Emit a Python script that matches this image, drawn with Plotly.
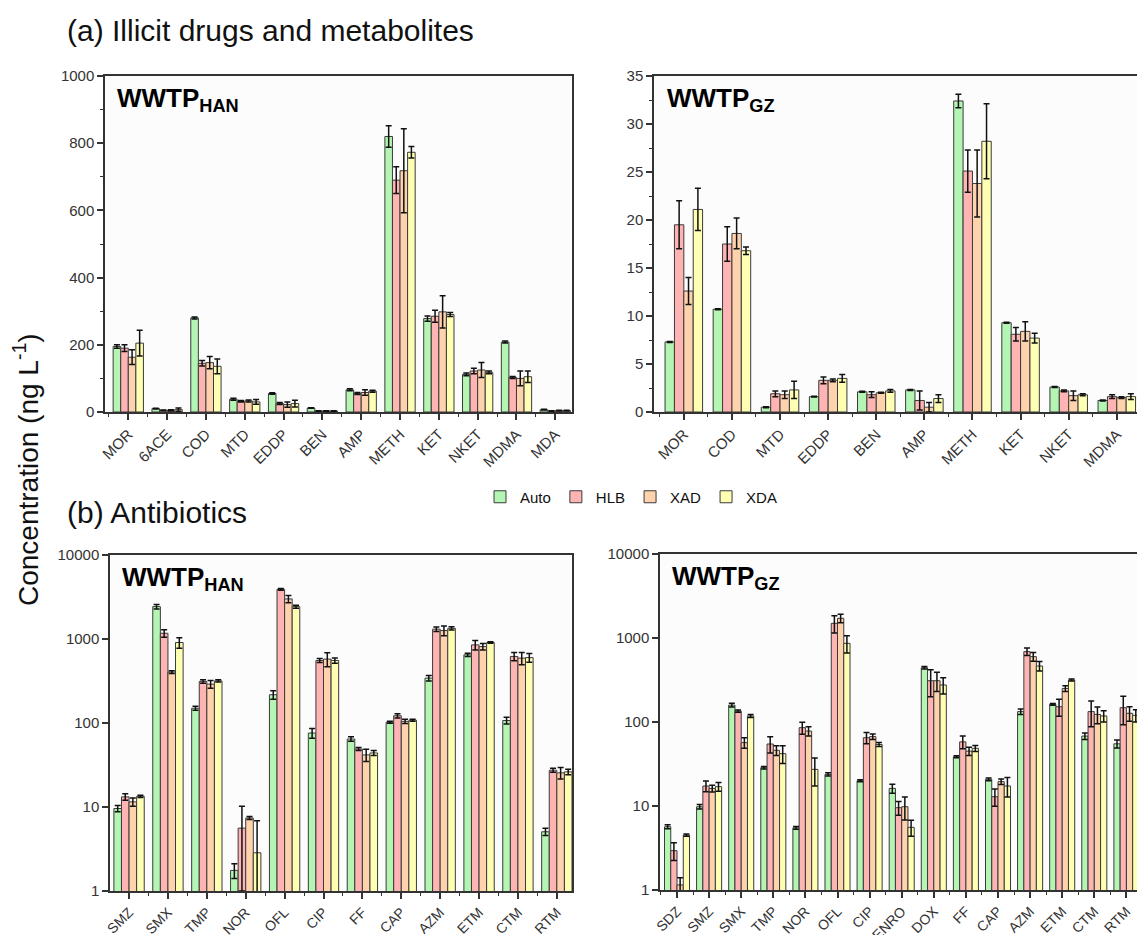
import plotly.graph_objects as go

# ---------------- data ----------------
series = ["Auto", "HLB", "XAD", "XDA"]
colors = ["#b4f5b4", "#ffb4b4", "#ffd2ae", "#ffffb4"]

# (a) Illicit drugs, WWTP_HAN
han_drug_cats = ["MOR", "6ACE", "COD", "MTD", "EDDP", "BEN", "AMP", "METH", "KET", "NKET", "MDMA", "MDA"]
han_drug_auto = [195, 10, 280, 38, 55, 12, 66, 820, 278, 112, 208, 7]
han_drug_hlb = [190, 5, 145, 32, 25, 3, 55, 690, 285, 122, 103, 3]
han_drug_xad = [163, 5, 147, 33, 22, 3, 58, 718, 298, 125, 100, 4]
han_drug_xda = [205, 7, 136, 30, 25, 3, 62, 773, 290, 118, 105, 4]
han_drug_auto_err = [5, 1, 3, 3, 2, 1, 3, 32, 8, 4, 3, 1]
han_drug_hlb_err = [10, 1, 8, 2, 3, 1, 3, 40, 18, 8, 3, 1]
han_drug_xad_err = [22, 2, 18, 3, 8, 1, 8, 125, 48, 22, 22, 1]
han_drug_xda_err = [38, 5, 22, 7, 10, 1, 3, 17, 6, 4, 17, 1]

# (a) Illicit drugs, WWTP_GZ
gz_drug_cats = ["MOR", "COD", "MTD", "EDDP", "BEN", "AMP", "METH", "KET", "NKET", "MDMA"]
gz_drug_auto = [7.3, 10.7, 0.5, 1.6, 2.1, 2.3, 32.4, 9.3, 2.6, 1.2]
gz_drug_hlb = [19.5, 17.5, 1.9, 3.3, 1.8, 1.2, 25.1, 8.1, 2.2, 1.6]
gz_drug_xad = [12.6, 18.6, 1.8, 3.3, 2.0, 0.5, 23.8, 8.4, 1.7, 1.5]
gz_drug_xda = [21.1, 16.8, 2.3, 3.5, 2.2, 1.4, 28.2, 7.7, 1.8, 1.6]
gz_drug_auto_err = [0.05, 0.05, 0.05, 0.05, 0.05, 0.05, 0.7, 0.05, 0.05, 0.05]
gz_drug_hlb_err = [2.5, 1.8, 0.3, 0.35, 0.3, 1.0, 2.2, 0.7, 0.1, 0.2]
gz_drug_xad_err = [1.4, 1.6, 0.4, 0.15, 0.05, 0.5, 3.5, 1.0, 0.5, 0.1]
gz_drug_xda_err = [2.2, 0.4, 0.9, 0.4, 0.15, 0.4, 3.9, 0.5, 0.1, 0.3]

# (b) Antibiotics, WWTP_HAN
han_ab_cats = ["SMZ", "SMX", "TMP", "NOR", "OFL", "CIP", "FF", "CAP", "AZM", "ETM", "CTM", "RTM"]
han_ab_auto = [9.6, 2430, 150, 1.76, 217, 76, 64.5, 102, 342, 648, 107, 5.07]
han_ab_hlb = [13.2, 1170, 313, 5.6, 3900, 555, 49, 122, 1310, 851, 620, 27.4]
han_ab_xad = [11.5, 404, 290, 7.4, 3000, 576, 41.7, 104.7, 1260, 812, 592, 25.5]
han_ab_xda = [13.4, 908, 317, 2.85, 2430, 555, 44, 108, 1340, 908, 600, 26.2]
han_ab_auto_err = [0.8, 150, 8, 0.35, 25, 10, 4, 3, 25, 30, 10, 0.5]
han_ab_hlb_err = [1.2, 120, 15, 4.6, 100, 30, 2, 7, 80, 110, 70, 1.5]
han_ab_xad_err = [1.3, 15, 30, 0.3, 300, 110, 7, 6, 170, 70, 100, 4]
han_ab_xda_err = [0.4, 130, 10, 4.0, 100, 40, 3, 3, 60, 20, 70, 2]

# (b) Antibiotics, WWTP_GZ
gz_ab_cats = ["SDZ", "SMZ", "SMX", "TMP", "NOR", "OFL", "CIP", "ENRO", "DOX", "FF", "CAP", "AZM", "ETM", "CTM", "RTM"]
gz_ab_auto = [5.67, 9.8, 159, 28.6, 5.5, 23.8, 20, 16.2, 443, 38.6, 20.8, 133, 162, 68, 55]
gz_ab_hlb = [2.94, 17.3, 135, 54.7, 85.6, 1496, 65, 9.55, 310, 58, 12.9, 688, 152, 133, 148]
gz_ab_xad = [1.15, 16.2, 56.8, 46, 78, 1714, 67, 9.8, 310, 45, 19.5, 600, 251, 123, 127]
gz_ab_xda = [4.5, 17, 118, 42, 27.3, 864, 54, 5.57, 276, 48.6, 17.3, 464, 316, 118, 120]
gz_ab_auto_err = [0.3, 0.6, 8, 1, 0.2, 1, 0.5, 2, 15, 1, 0.8, 10, 4, 6, 6]
gz_ab_hlb_err = [0.7, 2.5, 4, 12, 14, 350, 10, 1.8, 110, 10, 3, 70, 35, 45, 55]
gz_ab_xad_err = [0.25, 1.5, 8, 6, 10, 200, 5, 3, 80, 5, 1.5, 70, 20, 28, 25]
gz_ab_xda_err = [0.15, 2, 5, 10, 10, 200, 3, 1.2, 60, 4, 4.5, 60, 8, 18, 20]

panels = [
    dict(cats=han_drug_cats,
         vals=[han_drug_auto, han_drug_hlb, han_drug_xad, han_drug_xda],
         errs=[han_drug_auto_err, han_drug_hlb_err, han_drug_xad_err, han_drug_xda_err],
         label="WWTP<sub>HAN</sub>"),
    dict(cats=gz_drug_cats,
         vals=[gz_drug_auto, gz_drug_hlb, gz_drug_xad, gz_drug_xda],
         errs=[gz_drug_auto_err, gz_drug_hlb_err, gz_drug_xad_err, gz_drug_xda_err],
         label="WWTP<sub>GZ</sub>"),
    dict(cats=han_ab_cats,
         vals=[han_ab_auto, han_ab_hlb, han_ab_xad, han_ab_xda],
         errs=[han_ab_auto_err, han_ab_hlb_err, han_ab_xad_err, han_ab_xda_err],
         label="WWTP<sub>HAN</sub>"),
    dict(cats=gz_ab_cats,
         vals=[gz_ab_auto, gz_ab_hlb, gz_ab_xad, gz_ab_xda],
         errs=[gz_ab_auto_err, gz_ab_hlb_err, gz_ab_xad_err, gz_ab_xda_err],
         label="WWTP<sub>GZ</sub>"),
]

W, H = 1137, 935
FONT = "Liberation Sans, Arial, sans-serif"
AX = "#333333"

def px_x(p):
    return p / W

def px_y(p):
    return 1 - p / H

geo = [
    dict(xd=[px_x(105), px_x(572)], yd=[px_y(412), px_y(76)], xr=[-0.6, 11.43], right=True),
    dict(xd=[px_x(654), 1.0], yd=[px_y(412), px_y(76)], xr=[-0.62, 9.42], right=False),
    dict(xd=[px_x(110), px_x(572)], yd=[px_y(891), px_y(555)], xr=[-0.49, 11.39], right=True),
    dict(xd=[px_x(660), 1.0], yd=[px_y(890), px_y(554)], xr=[-0.53, 14.33], right=False),
]

fig = go.Figure()
layout = {}
for i, (p, g) in enumerate(zip(panels, geo)):
    n = i + 1
    xa = "x" if n == 1 else f"x{n}"
    ya = "y" if n == 1 else f"y{n}"
    xpos = list(range(len(p["cats"])))
    for s, (name, col) in enumerate(zip(series, colors)):
        fig.add_trace(go.Bar(
            x=xpos, y=p["vals"][s], name=name,
            marker=dict(color=col, line=dict(color="#3a3a3a", width=1)),
            error_y=dict(type="data", array=p["errs"][s], color="#111111", thickness=1.5, width=3),
            xaxis=xa, yaxis=ya, offsetgroup=str(s), legendgroup=name,
            showlegend=(i == 0),
        ))
    xkey = "xaxis" if n == 1 else f"xaxis{n}"
    ykey = "yaxis" if n == 1 else f"yaxis{n}"
    layout[xkey] = dict(
        domain=g["xd"], range=g["xr"], anchor=ya,
        tickmode="array", tickvals=xpos, ticktext=p["cats"], tickangle=-45,
        ticks="outside", ticklen=6, tickwidth=1.5, tickcolor=AX,
        minor=dict(tickmode="linear", tick0=0.5, dtick=1, ticks="outside", ticklen=3,
                   tickwidth=1.2, tickcolor=AX),
        showline=True, linecolor=AX, linewidth=1.5, mirror=True,
        showgrid=False, zeroline=False, automargin=False,
        tickfont=dict(family=FONT, size=15 if n <= 2 else 14, color="#333333"),
    )
    ydict = dict(
        domain=g["yd"], anchor=xa,
        ticks="outside", ticklen=6, tickwidth=1.5, tickcolor=AX,
        showline=True, linecolor=AX, linewidth=1.5, mirror=g["right"],
        showgrid=False, zeroline=False, automargin=False,
        tickfont=dict(family=FONT, size=15, color="#333333"),
    )
    if n == 1:
        ydict.update(range=[0, 1000], dtick=200,
                     minor=dict(dtick=100, ticks="outside", ticklen=3, tickcolor=AX, tickwidth=1.2))
    elif n == 2:
        ydict.update(range=[0, 35], dtick=5,
                     minor=dict(dtick=2.5, ticks="outside", ticklen=3, tickcolor=AX, tickwidth=1.2))
    else:
        ydict.update(type="log", range=[0, 4], tickvals=[1, 10, 100, 1000, 10000],
                     ticktext=["1", "10", "100", "1000", "10000"])
    layout[ykey] = ydict

annotations = []
for i, (p, g) in enumerate(zip(panels, geo)):
    n = i + 1
    xa = "x" if n == 1 else f"x{n}"
    ya = "y" if n == 1 else f"y{n}"
    annotations.append(dict(
        text="<b>" + p["label"] + "</b>", xref=f"{xa} domain", yref=f"{ya} domain",
        x=0.022, y=0.985, xanchor="left", yanchor="top", showarrow=False,
        font=dict(family=FONT, size=26, color="black"),
    ))

annotations += [
    dict(text="(a) Illicit drugs and metabolites", xref="paper", yref="paper",
         x=px_x(65), y=px_y(30), xanchor="left", yanchor="middle", showarrow=False,
         font=dict(family=FONT, size=30, color="#111111")),
    dict(text="(b) Antibiotics", xref="paper", yref="paper",
         x=px_x(65), y=px_y(512), xanchor="left", yanchor="middle", showarrow=False,
         font=dict(family=FONT, size=30, color="#111111")),
    dict(text="Concentration (ng L<sup>-1</sup>)", xref="paper", yref="paper",
         x=px_x(26), y=px_y(470), xanchor="center", yanchor="middle", textangle=-90,
         showarrow=False, font=dict(family=FONT, size=28, color="#111111")),
]

fig.update_layout(
    width=W, height=H,
    margin=dict(l=0, r=0, t=0, b=0),
    paper_bgcolor="white", plot_bgcolor="#fcfcfc",
    barmode="group", bargap=0.22, bargroupgap=0,
    showlegend=True,
    legend=dict(orientation="h", x=px_x(480), y=px_y(497), xanchor="left", yanchor="middle",
                font=dict(family=FONT, size=15, color="#111111"),
                bgcolor="rgba(0,0,0,0)", itemwidth=30, tracegroupgap=0),
    annotations=annotations,
    **layout,
)

fig.write_html("out.html")
